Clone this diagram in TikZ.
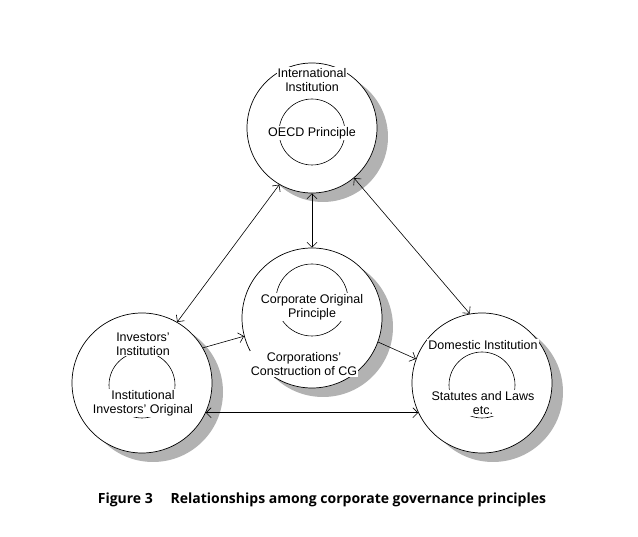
\documentclass[tikz,border=0pt]{standalone}
\usepackage{fontspec}
\setmainfont{Liberation Sans}
\newfontfamily\capfont{Open Sans}
\usetikzlibrary{arrows.meta}
\begin{document}
\begin{tikzpicture}[x=1pt,y=-1pt,
  shad/.style={fill=gray!60,draw=none},
  outer/.style={circle,draw,fill=white,line width=0.7pt},
  inner/.style={circle,draw,line width=0.6pt},
  lbl/.style={font=\fontsize{12.5}{14}\selectfont,align=center,fill=white,inner sep=1pt},
  arr/.style={{Straight Barb[length=5pt]}-{Straight Barb[length=5pt]},line width=0.6pt},
  arrs/.style={-{Straight Barb[length=5pt]},line width=0.6pt}]
\useasboundingbox (0,0) rectangle (638,537);
\foreach \x/\y/\r in {312/128/65,312/318/70,142/383/70,482/383/70}
  \fill[shad] (\x+11,\y+9) circle (\r);
\node[outer,minimum size=130pt] (T) at (312,128) {};
\node[outer,minimum size=140pt] (C) at (312,318) {};
\node[outer,minimum size=140pt] (L) at (142,383) {};
\node[outer,minimum size=140pt] (R) at (482,383) {};
\node[inner,minimum size=66pt] (Ti) at (312,132) {};
\node[inner,minimum size=72pt] (Ci) at (312,300) {};
\node[inner,minimum size=66pt] (Li) at (142,385) {};
\node[inner,minimum size=66pt] (Ri) at (482,385) {};
\node[lbl] at (312,80) {International\\Institution};
\node[lbl] at (312,133) {OECD Principle};
\node[lbl] at (312,307) {Corporate Original\\Principle};
\node[lbl] at (304,364) {Corporations'\\Construction of CG};
\node[lbl] at (143,344) {Investors'\\Institution};
\node[lbl] at (143,403) {Institutional\\Investors' Original};
\node[lbl] at (483,345) {Domestic Institution};
\node[lbl] at (483,403) {Statutes and Laws\\etc.};
\draw[arr] (T) -- (C);
\draw[arr] (T.-120) -- (L.60);
\draw[arr] (T.-50) -- (R.100);
\draw[arrs] (L.30) -- (C.195);
\draw[arrs] (C.-20) -- (R.160);
\draw[arr] (L.-25) -- (R.-155);
\node[font=\capfont\bfseries\fontsize{14}{16}\selectfont] (cap) at (322,500) {Figure 3\quad\ Relationships among corporate governance principles};
\end{tikzpicture}
\end{document}
